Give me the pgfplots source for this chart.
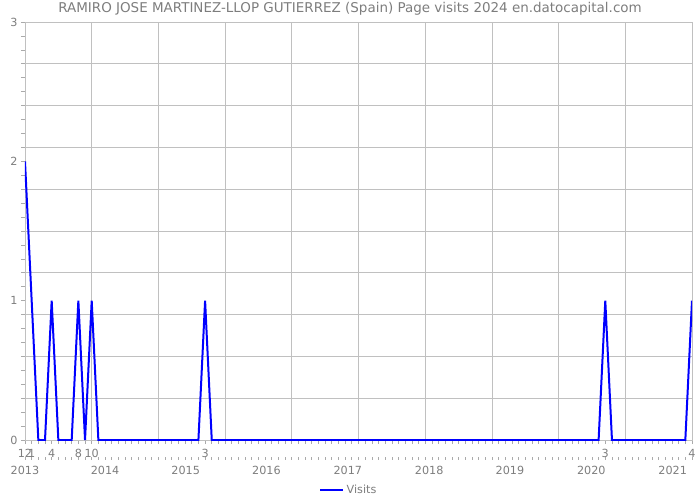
\documentclass[border=0pt]{standalone}
\usepackage{fontspec}
\setmainfont{DejaVu Sans}
\usepackage{pgfplots}
\pgfplotsset{compat=1.18}
\definecolor{txtgray}{RGB}{125,125,125}
\definecolor{gridgray}{RGB}{192,192,192}
\definecolor{tickgray}{RGB}{170,170,170}
\definecolor{visblue}{RGB}{0,0,255}
\pgfplotstableread{
x y
0 2
1 1
2 0
3 0
4 1
5 0
6 0
7 0
8 1
9 0
10 1
11 0
12 0
13 0
14 0
15 0
16 0
17 0
18 0
19 0
20 0
21 0
22 0
23 0
24 0
25 0
26 0
27 1
28 0
29 0
30 0
31 0
32 0
33 0
34 0
35 0
36 0
37 0
38 0
39 0
40 0
41 0
42 0
43 0
44 0
45 0
46 0
47 0
48 0
49 0
50 0
51 0
52 0
53 0
54 0
55 0
56 0
57 0
58 0
59 0
60 0
61 0
62 0
63 0
64 0
65 0
66 0
67 0
68 0
69 0
70 0
71 0
72 0
73 0
74 0
75 0
76 0
77 0
78 0
79 0
80 0
81 0
82 0
83 0
84 0
85 0
86 0
87 1
88 0
89 0
90 0
91 0
92 0
93 0
94 0
95 0
96 0
97 0
98 0
99 0
100 1
}\visits
\begin{document}
\begin{tikzpicture}
\path[use as bounding box] (-18.75pt,-45pt) rectangle (506.25pt,330pt);
\node[text=txtgray, font=\fontsize{10.1}{12}\selectfont] at (243.75pt,323.25pt) {RAMIRO JOSE MARTINEZ-LLOP GUTIERREZ (Spain) Page visits 2024 en.datocapital.com};
% second axis: year labels row
\begin{axis}[
  at={(0,-13pt)}, anchor=south west,
  scale only axis, width=500.25pt, height=1pt,
  xmin=0, xmax=100, ymin=0, ymax=1,
  hide y axis,
  axis x line*=bottom,
  x axis line style={draw=none},
  xtick={0,12,24.1,36.2,48.4,60.6,72.7,84.9,97.1},
  xticklabels={2013,2014,2015,2016,2017,2018,2019,2020,2021},
  major tick length=0pt,
  minor xtick={0,1,...,100},
  minor tick length=2pt,
  tick align=outside,
  minor tick style={tickgray, line width=0.5pt},
  xticklabel style={text=txtgray, font=\fontsize{8.4}{9}\selectfont, yshift=-3pt},
  /pgf/number format/assume math mode=true,
]
\end{axis}
\begin{axis}[
  at={(0,0)}, anchor=south west,
  scale only axis, width=500.25pt, height=313.5pt,
  xmin=0, xmax=100, ymin=0, ymax=3,
  axis line style={gridgray, line width=0.6pt},
  xtick={0,10,...,100}, xticklabels={},
  ytick={0,0.3,0.6,0.9,1.2,1.5,1.8,2.1,2.4,2.7,3}, yticklabels={},
  xmajorgrids, ymajorgrids,
  major grid style={gridgray, line width=0.6pt},
  major tick length=0pt,
  extra x ticks={0,1,4,8,10,27,87,100},
  extra x tick labels={12,1,4,8,10,3,3,4},
  extra y ticks={0,1,2,3},
  extra y tick labels={0,1,2,3},
  extra tick style={grid=none, major tick length=0pt},
  minor xtick={0,1,...,100},
  minor ytick={0,0.1,...,3},
  minor tick length=3pt,
  tick align=outside,
  xtick pos=bottom, ytick pos=left,
  minor tick style={tickgray, line width=0.5pt},
  tick label style={text=txtgray, font=\fontsize{8.4}{9}\selectfont},
  xticklabel style={yshift=-3.5pt},
  yticklabel style={xshift=-2pt},
  /pgf/number format/assume math mode=true,
  legend style={at={(0.486,-0.1196)}, anchor=center, draw=none, fill=none,
    font=\fontsize{8.4}{9}\selectfont, text=txtgray, legend columns=1},
  legend image post style={line width=1.5pt},
  legend cell align=left,
]
\addplot[visblue, line width=1.5pt, sharp plot] table[x=x,y=y] {\visits};
\addlegendentry{Visits}
\end{axis}
\end{tikzpicture}
\end{document}
